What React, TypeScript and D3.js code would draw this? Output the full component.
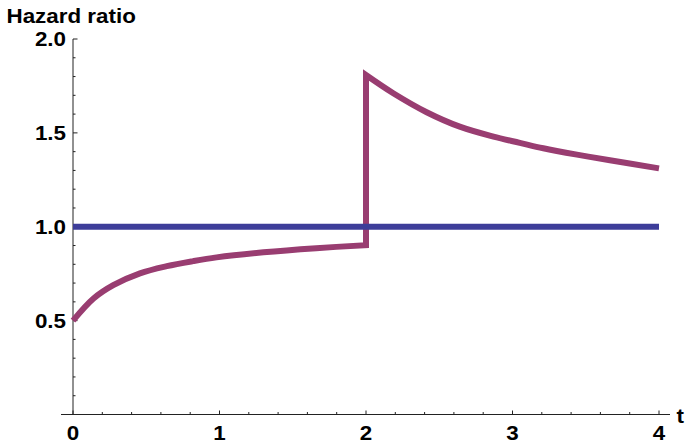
import React from "react";
import * as d3 from "d3";

const tBefore = [0, 0.14, 0.275, 0.457, 0.64, 0.82, 0.98, 1.3, 1.66, 2.0];
const hrBefore = [0.5, 0.618, 0.689, 0.752, 0.79, 0.817, 0.837, 0.864, 0.886, 0.902];
const tAfter = [2.0, 2.186, 2.414, 2.64, 2.87, 3.05, 3.21, 3.44, 3.665, 4.0];
const hrAfter = [1.808, 1.711, 1.61, 1.533, 1.48, 1.447, 1.418, 1.384, 1.354, 1.311];
const tRef = [0, 4];
const hrRef = [1, 1];
const xTickLabels = [0, 1, 2, 3, 4];
const yTickLabels = [0.5, 1.0, 1.5, 2.0];

const W = 685;
const H = 445;

export default function App() {
  const x = d3.scaleLinear().domain([0, 4]).range([73, 659]);
  const y = d3.scaleLinear().domain([0, 2]).range([414.5, 39]);

  const lineSmooth = d3
    .line<[number, number]>()
    .x((d) => x(d[0]))
    .y((d) => y(d[1]))
    .curve(d3.curveCatmullRom.alpha(0.5));

  const seg1 = tBefore.map((t, i) => [t, hrBefore[i]] as [number, number]);
  const seg2 = tAfter.map((t, i) => [t, hrAfter[i]] as [number, number]);
  const p1 = lineSmooth(seg1) || "";
  const p2 = lineSmooth(seg2) || "";
  const purplePath = p1 + "L" + p2.slice(1);

  const refPts: [number, number][] = tRef.map((t, i) => [t, hrRef[i]]);
  const refPath =
    d3
      .line<[number, number]>()
      .x((d) => x(d[0]))
      .y((d) => y(d[1]))(refPts) || "";

  const xMinor = d3.range(0, 4.0001, 0.2);
  const yMinor = d3.range(0.1, 2.0001, 0.1);
  const font = "'Liberation Sans', Arial, Helvetica, sans-serif";
  const fs = 20;
  const sx = 1.12;
  const axisColor = "#222";

  return (
    <svg
      width={W}
      height={H}
      style={{ position: "absolute", left: 0, top: 0, background: "#fff" }}
    >
      <line x1={61} x2={670} y1={y(0)} y2={y(0)} stroke={axisColor} strokeWidth={1} />
      <line x1={x(0)} x2={x(0)} y1={y(0)} y2={y(2)} stroke={axisColor} strokeWidth={1} />
      {xMinor.map((t, i) => {
        const major = Math.abs(t - Math.round(t)) < 1e-6;
        return (
          <line
            key={"xt" + i}
            x1={x(t)}
            x2={x(t)}
            y1={y(0)}
            y2={y(0) - (major ? 4 : 2.5)}
            stroke={axisColor}
            strokeWidth={1}
          />
        );
      })}
      {yMinor.map((v, i) => {
        const major = Math.abs(v * 2 - Math.round(v * 2)) < 1e-6;
        return (
          <line
            key={"yt" + i}
            x1={x(0)}
            x2={x(0) + (major ? 4.5 : 2.5)}
            y1={y(v)}
            y2={y(v)}
            stroke={axisColor}
            strokeWidth={1}
          />
        );
      })}
      {xTickLabels.map((t) => (
        <text
          key={"xl" + t}
          transform={`translate(${x(t)},440) scale(${sx},1)`}
          textAnchor="middle"
          fontFamily={font}
          fontWeight="bold"
          fontSize={fs}
          fill="#000"
        >
          {t}
        </text>
      ))}
      {yTickLabels.map((v) => (
        <text
          key={"yl" + v}
          transform={`translate(66,${y(v) + 7.2}) scale(${sx},1)`}
          textAnchor="end"
          fontFamily={font}
          fontWeight="bold"
          fontSize={fs}
          fill="#000"
        >
          {v.toFixed(1)}
        </text>
      ))}
      <text
        transform={`translate(6.5,23.3) scale(${sx},1)`}
        fontFamily={font}
        fontWeight="bold"
        fontSize={fs}
        fill="#000"
      >
        Hazard ratio
      </text>
      <text
        transform={`translate(676.5,423) scale(${sx},1)`}
        fontFamily={font}
        fontWeight="bold"
        fontSize={fs}
        fill="#000"
      >
        t
      </text>
      <path
        d={purplePath}
        fill="none"
        stroke="#993D71"
        strokeWidth={6}
        strokeLinejoin="miter"
        strokeMiterlimit={10}
      />
      <path d={refPath} fill="none" stroke="#3D3D99" strokeWidth={6} />
    </svg>
  );
}
